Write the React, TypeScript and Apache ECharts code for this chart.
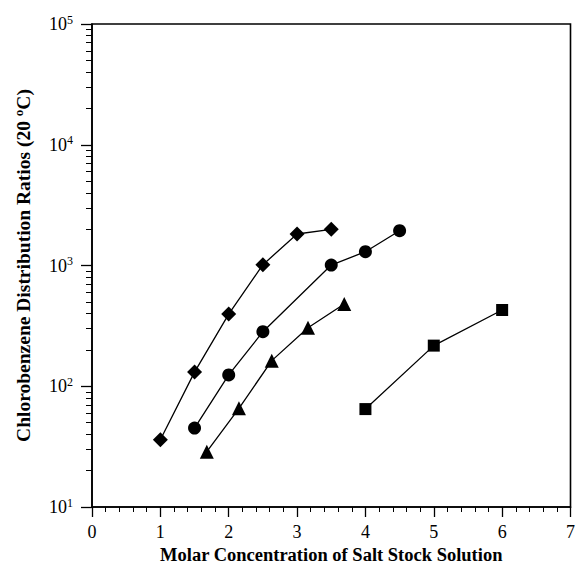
import React, { useEffect, useRef } from "react";
import * as echarts from "echarts";

const diamondX = [1.0, 1.5, 2.0, 2.5, 3.0, 3.5];
const diamondY = [36, 131, 396, 1015, 1824, 1995];
const circleX = [1.5, 2.0, 2.5, 3.5, 4.0, 4.5];
const circleY = [45, 124, 283, 1009, 1301, 1941];
const triangleX = [1.68, 2.15, 2.63, 3.16, 3.69];
const triangleY = [28.7, 65.6, 163, 305, 480];
const squareX = [4.0, 5.0, 6.0];
const squareY = [64.7, 217, 428];

const yMajorTicks = [10, 100, 1000, 10000, 100000];
const yMinorTicks: number[] = [];
for (let d = 10; d < 100000; d *= 10) {
  for (let k = 2; k <= 9; k++) yMinorTicks.push(d * k);
}
const supMap: Record<number, string> = { 10: "1", 100: "2", 1000: "3", 10000: "4", 100000: "5" };

const zip = (xs: number[], ys: number[]) => xs.map((x, i) => [x, ys[i]]);

export default function App() {
  const ref = useRef<HTMLDivElement>(null);
  useEffect(() => {
    if (!ref.current) return;
    const chart = echarts.init(ref.current, undefined, { renderer: "svg" });
    const font = "Liberation Serif";
    const mk = (name: string, symbol: string, size: number, xs: number[], ys: number[]) => ({
      name,
      type: "line",
      data: zip(xs, ys),
      symbol,
      symbolSize: size,
      showAllSymbol: true,
      lineStyle: { color: "#000", width: 1.3 },
      itemStyle: { color: "#000", borderWidth: 0 },
      yAxisIndex: 0,
    });
    chart.setOption({
      animation: false,
      backgroundColor: "#fff",
      grid: {
        left: 92,
        right: 7,
        top: 24,
        bottom: 73,
        show: true,
        borderColor: "#000",
        borderWidth: 1.6,
        backgroundColor: "transparent",
      },
      xAxis: {
        type: "value",
        min: 0,
        max: 7,
        interval: 1,
        name: "Molar Concentration of Salt Stock Solution",
        nameLocation: "middle",
        nameGap: 32,
        nameTextStyle: { fontFamily: font, fontWeight: "bold", fontSize: 18.5, color: "#000" },
        axisLine: { show: true, lineStyle: { color: "#000", width: 1.6 } },
        axisTick: { show: true, inside: false, length: 10, lineStyle: { color: "#000", width: 1.3 } },
        minorTick: { show: true, splitNumber: 5, length: 5, lineStyle: { color: "#000", width: 1 } },
        axisLabel: { fontFamily: font, fontSize: 18, color: "#000", margin: 16 },
        splitLine: { show: false },
        minorSplitLine: { show: false },
      },
      yAxis: [
        {
          type: "log",
          logBase: 10,
          min: 10,
          max: 100000,
          name: "Chlorobenzene Distribution Ratios (20 {s|o}C)",
          nameLocation: "middle",
          nameGap: 57,
          nameTextStyle: {
            fontFamily: font,
            fontWeight: "bold",
            fontSize: 19.5,
            color: "#000",
            rich: {
              s: { fontFamily: font, fontWeight: "bold", fontSize: 13, color: "#000", padding: [0, 0, 10, 0] },
            },
          },
          axisLine: { show: true, lineStyle: { color: "#000", width: 1.6 } },
          axisTick: { show: true, length: 11, lineStyle: { color: "#000", width: 1.3 }, customValues: yMajorTicks },
          axisLabel: {
            customValues: yMajorTicks,
            margin: 19,
            fontFamily: font,
            fontSize: 18,
            color: "#000",
            formatter: (v: number) => `{a|10}{b|${supMap[Math.round(v)] ?? ""}}`,
            rich: {
              a: { fontFamily: font, fontSize: 18, color: "#000" },
              b: { fontFamily: font, fontSize: 12, color: "#000", padding: [0, 0, 9, 0] },
            },
          },
          splitLine: { show: false },
        },
        {
          type: "log",
          logBase: 10,
          min: 10,
          max: 100000,
          position: "left",
          axisLine: { show: false },
          axisTick: { show: true, length: 6, lineStyle: { color: "#000", width: 1 }, customValues: yMinorTicks },
          axisLabel: { show: false },
          splitLine: { show: false },
        },
      ],
      series: [
        mk("diamond", "diamond", 15, diamondX, diamondY),
        mk("circle", "circle", 13, circleX, circleY),
        mk("triangle", "triangle", 14, triangleX, triangleY),
        mk("square", "rect", 12, squareX, squareY),
      ],
    });
    return () => chart.dispose();
  }, []);
  return (
    <div
      ref={ref}
      style={{ position: "fixed", left: 0, top: 0, width: 578, height: 580, background: "#fff" }}
    />
  );
}
